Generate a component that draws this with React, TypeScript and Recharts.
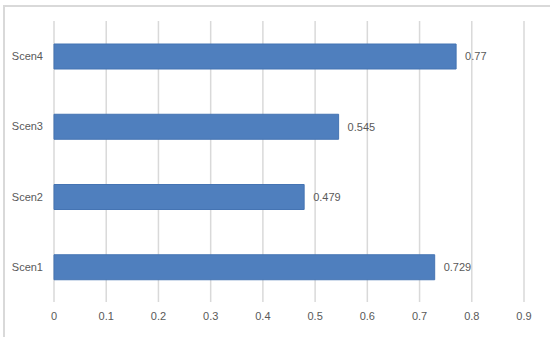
import { BarChart, Bar, XAxis, YAxis, CartesianGrid, LabelList } from 'recharts';

const scenarios = ['Scen1', 'Scen2', 'Scen3', 'Scen4'];
const scores = [0.729, 0.479, 0.545, 0.77];
const xTicks = [0, 0.1, 0.2, 0.3, 0.4, 0.5, 0.6, 0.7, 0.8, 0.9];

const data = scenarios.map((name, i) => ({ name, value: scores[i] }));

const font = "'Liberation Sans', Arial, sans-serif";

const App = () => {
  return (
    <div style={{ position: 'absolute', left: 0, top: 0, width: 550, height: 337, overflow: 'hidden', background: '#fff' }}>
      <div style={{ position: 'absolute', left: 0, top: 0 }}>
        <BarChart
          width={550}
          height={337}
          data={data}
          layout="vertical"
          margin={{ top: 21, right: 26, left: 0, bottom: 0 }}
          style={{ fontFamily: font }}
        >
          <CartesianGrid horizontal={false} stroke="#d9d9d9" strokeWidth={1.5} />
          <XAxis
            type="number"
            domain={[0, 0.9]}
            ticks={xTicks}
            height={35}
            axisLine={false}
            tickLine={false}
            tickMargin={4}
            tick={{ fill: '#595959', fontSize: 11 }}
          />
          <YAxis
            type="category"
            dataKey="name"
            reversed
            width={54}
            axisLine={false}
            tickLine={false}
            tickMargin={5}
            tick={{ fill: '#595959', fontSize: 11 }}
          />
          <Bar dataKey="value" fill="#4f7fbe" stroke="#4574b3" barSize={25} isAnimationActive={false}>
            <LabelList dataKey="value" position="right" offset={9} fill="#595959" fontSize={11} />
          </Bar>
        </BarChart>
      </div>
      <div style={{ position: 'absolute', left: 3, top: 5, width: 560, height: 350, borderTop: '2px solid #d9d9d9', borderLeft: '2px solid #d9d9d9', boxSizing: 'border-box', pointerEvents: 'none', zIndex: 5 }} />
    </div>
  );
};

export default App;
